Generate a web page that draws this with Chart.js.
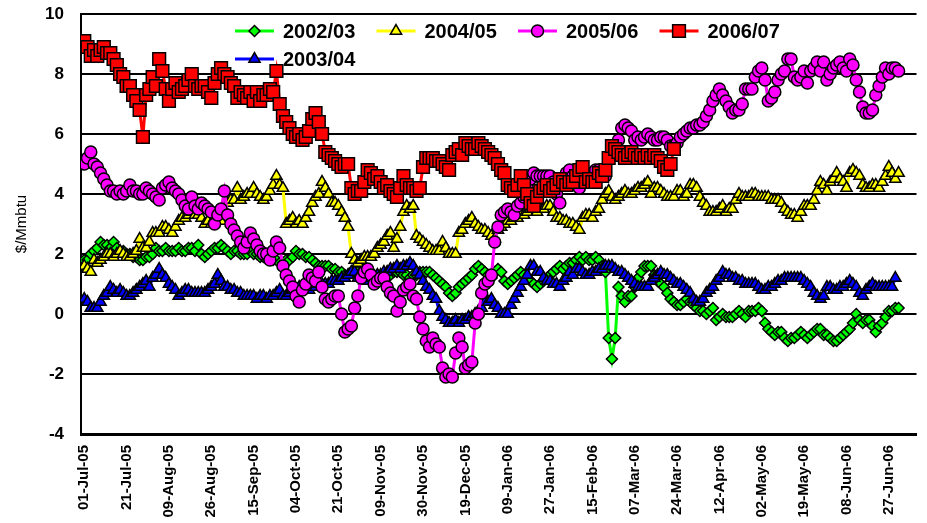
<!DOCTYPE html>
<html>
<head>
<meta charset="utf-8">
<title>Gas spread by season</title>
<script src="https://cdn.jsdelivr.net/npm/chart.js@4.4.1/dist/chart.umd.min.js"></script>
<style>
    html, body { margin: 0; padding: 0; background: #fff; }
    canvas { display: block; }
</style>
</head>
<body>
<canvas id="spreadChart" width="927" height="523"></canvas>
<script>
// Axis labels (one every 13 trading days)
const TICK_STEP = 13;
const TICK_LABELS = ['01-Jul-05', '21-Jul-05', '09-Aug-05', '26-Aug-05', '15-Sep-05', '04-Oct-05',
    '21-Oct-05', '09-Nov-05', '30-Nov-05', '19-Dec-05', '09-Jan-06', '27-Jan-06', '15-Feb-06',
    '07-Mar-06', '24-Mar-06', '12-Apr-06', '02-May-06', '19-May-06', '08-Jun-06', '27-Jun-06'];

// Daily values, $/Mmbtu, one row per 13 trading days
const SPREAD_0203 = [
    1.8, 1.8, 2.0, 2.1, 2.2, 2.4, 2.3, 2.3, 2.2, 2.4, 2.2, 2.1, 2.1,
    2.0, 2.0, 1.9, 1.9, 1.8, 1.8, 1.9, 1.9, 2.0, 2.2, 2.1, 2.1, 2.2,
    2.1, 2.1, 2.1, 2.2, 2.1, 2.1, 2.2, 2.2, 2.1, 2.3, 2.0, 1.9, 2.0,
    2.1, 2.2, 2.2, 2.3, 2.2, 2.1, 2.0, 2.1, 2.1, 2.0, 2.0, 2.0, 2.1,
    2.0, 2.0, 1.9, 1.9, 1.9, 1.9, 1.8, 1.8, 1.7, 1.7, 1.8, 1.8, 1.9,
    2.1, 2.0, 2.0, 1.9, 1.9, 1.8, 1.7, 1.6, 1.6, 1.6, 1.6, 1.5, 1.5,
    1.4, 1.4, 1.3, 1.3, 1.4, 1.4, 1.4, 1.4, 1.4, 1.3, 1.3, 1.3, 1.3,
    1.2, 1.2, 1.3, 1.3, 1.4, 1.4, 1.4, 1.3, 1.3, 1.2, 1.3, 1.3, 1.4,
    1.4, 1.4, 1.4, 1.3, 1.2, 1.1, 1.0, 0.9, 0.7, 0.6, 0.7, 0.9, 1.0,
    1.1, 1.2, 1.3, 1.5, 1.6, 1.5, 1.4, 1.3, 1.2, 1.4, 1.5, 1.4, 1.1,
    1.0, 1.1, 1.2, 1.3, 1.4, 1.3, 1.2, 1.1, 1.0, 0.9, 1.0, 1.1, 1.2,
    1.3, 1.4, 1.5, 1.6, 1.5, 1.6, 1.7, 1.7, 1.8, 1.9, 1.8, 1.9, 1.8,
    1.8, 1.9, 1.8, 1.6, 1.4, -0.8, -1.5, -0.8, 0.9, 0.6, 0.4, 0.6, 0.6,
    0.9, 1.2, 1.4, 1.6, 1.6, 1.6, 1.3, 1.1, 1.0, 0.9, 0.7, 0.5, 0.4,
    0.3, 0.3, 0.4, 0.5, 0.4, 0.3, 0.2, 0.1, 0.1, 0.0, 0.1, 0.2, -0.2,
    -0.1, 0.0, -0.1, -0.1, -0.1, 0.0, 0.1, 0.0, -0.1, 0.1, 0.1, 0.1, 0.2,
    0.1, -0.3, -0.5, -0.6, -0.7, -0.6, -0.6, -0.8, -0.9, -0.8, -0.8, -0.7, -0.6,
    -0.7, -0.8, -0.7, -0.6, -0.5, -0.5, -0.7, -0.7, -0.8, -0.9, -0.9, -0.8, -0.7,
    -0.6, -0.5, -0.3, 0.0, -0.2, -0.3, -0.2, -0.2, -0.4, -0.6, -0.4, -0.3, -0.1,
    0.1, 0.1, 0.2, 0.2
];

const SPREAD_0304 = [
    0.5, 0.4, 0.2, 0.2, 0.2, 0.4, 0.6, 0.7, 0.9, 0.8, 0.7, 0.8, 0.7,
    0.6, 0.6, 0.7, 0.8, 0.9, 1.0, 1.1, 0.9, 1.2, 1.3, 1.5, 1.3, 1.2,
    1.0, 0.9, 0.8, 0.6, 0.7, 0.8, 0.8, 0.7, 0.7, 0.7, 0.7, 0.7, 0.8,
    0.9, 1.0, 1.3, 1.1, 0.9, 0.9, 0.8, 0.8, 0.7, 0.7, 0.6, 0.6, 0.6,
    0.6, 0.5, 0.6, 0.6, 0.5, 0.6, 0.6, 0.7, 0.8, 0.6, 0.6, 0.7, 0.8,
    0.8, 0.9, 0.8, 0.8, 0.8, 0.9, 0.9, 1.0, 1.0, 1.0, 1.0, 1.1, 1.1,
    1.1, 1.2, 1.2, 1.3, 1.4, 1.4, 1.2, 1.2, 1.1, 1.2, 1.2, 1.2, 1.3,
    1.3, 1.4, 1.4, 1.5, 1.5, 1.6, 1.5, 1.6, 1.6, 1.7, 1.6, 1.4, 1.3,
    1.1, 0.9, 0.8, 0.6, 0.5, 0.1, -0.1, -0.2, -0.3, -0.3, -0.2, -0.3, -0.2,
    -0.2, -0.1, -0.1, 0.0, 0.1, 0.2, 0.4, 0.4, 0.5, 0.3, 0.2, 0.0, 0.0,
    0.0, 0.3, 0.5, 0.7, 0.9, 1.1, 1.3, 1.6, 1.6, 1.4, 1.4, 1.2, 1.1,
    1.1, 1.0, 1.0, 0.9, 1.1, 1.2, 1.4, 1.3, 1.5, 1.5, 1.4, 1.3, 1.3,
    1.4, 1.4, 1.5, 1.5, 1.6, 1.6, 1.6, 1.5, 1.4, 1.4, 1.3, 1.2, 1.1,
    1.0, 0.9, 0.9, 0.9, 0.9, 1.1, 1.2, 1.3, 1.4, 1.3, 1.3, 1.2, 1.1,
    1.0, 1.0, 0.9, 0.8, 0.7, 0.5, 0.4, 0.4, 0.5, 0.7, 0.8, 0.9, 1.1,
    1.2, 1.4, 1.3, 1.3, 1.2, 1.2, 1.1, 1.1, 1.0, 1.0, 1.0, 1.0, 0.9,
    0.8, 0.8, 0.9, 0.9, 1.0, 1.1, 1.1, 1.2, 1.2, 1.2, 1.2, 1.2, 1.2,
    1.1, 1.0, 0.9, 0.7, 0.6, 0.5, 0.6, 0.9, 0.9, 0.8, 0.8, 0.9, 0.9,
    1.0, 1.1, 1.0, 0.9, 0.7, 0.6, 0.8, 0.9, 1.0, 0.9, 0.9, 0.9, 0.9,
    0.9, 0.9, 1.2
];

const SPREAD_0405 = [
    1.6, 1.5, 1.4, 1.8, 1.7, 1.8, 1.9, 2.0, 2.0, 1.9, 2.0, 2.1, 2.0,
    1.9, 1.9, 2.0, 2.1, 2.5, 2.2, 2.2, 2.4, 2.7, 2.7, 2.7, 2.9, 2.9,
    2.8, 2.7, 2.9, 3.1, 3.2, 3.2, 3.3, 3.4, 3.3, 3.3, 3.2, 3.0, 3.1,
    3.0, 3.2, 3.3, 3.1, 3.5, 3.7, 3.8, 3.8, 4.2, 3.8, 3.9, 4.0, 4.0,
    4.2, 4.0, 3.9, 3.8, 3.9, 4.1, 4.3, 4.6, 4.3, 4.2, 3.0, 3.1, 3.2,
    3.0, 3.1, 3.0, 3.2, 3.4, 3.7, 3.9, 4.0, 4.4, 4.2, 4.0, 3.7, 3.7,
    3.6, 3.4, 3.2, 2.9, 2.0, 1.8, 1.7, 1.8, 1.9, 1.9, 1.9, 2.0, 2.2,
    2.3, 2.4, 2.6, 2.7, 2.2, 2.5, 2.9, 3.4, 3.6, 3.5, 3.6, 2.6, 2.5,
    2.4, 2.3, 2.2, 2.1, 2.1, 2.1, 2.4, 2.2, 2.0, 2.0, 2.0, 2.7, 2.8,
    3.0, 3.1, 3.2, 3.0, 2.9, 2.8, 2.8, 2.7, 2.6, 2.5, 2.8, 2.9, 3.0,
    3.1, 3.1, 3.2, 3.2, 3.3, 3.3, 3.4, 3.5, 3.5, 3.4, 3.5, 3.5, 3.6,
    3.6, 3.4, 3.2, 3.2, 3.1, 3.1, 3.0, 3.0, 2.9, 2.8, 3.2, 3.3, 3.3,
    3.2, 3.4, 3.5, 3.8, 4.0, 4.1, 3.9, 3.8, 3.9, 4.0, 4.1, 4.0, 4.0,
    4.1, 4.2, 4.2, 4.3, 4.4, 4.0, 4.2, 4.2, 4.1, 4.0, 3.9, 3.9, 3.9,
    4.1, 4.1, 3.9, 4.0, 4.3, 4.3, 4.2, 3.9, 3.7, 3.6, 3.4, 3.4, 3.4,
    3.5, 3.6, 3.4, 3.5, 3.5, 3.8, 4.0, 3.9, 3.9, 3.9, 4.0, 4.0, 3.9,
    3.9, 3.9, 3.9, 3.8, 3.8, 3.8, 3.7, 3.5, 3.4, 3.3, 3.3, 3.2, 3.4,
    3.6, 3.6, 3.6, 3.8, 4.1, 4.4, 4.3, 4.1, 4.4, 4.5, 4.7, 4.5, 4.4,
    4.2, 4.7, 4.8, 4.7, 4.6, 4.3, 4.2, 4.2, 4.3, 4.3, 4.2, 4.4, 4.6,
    4.9, 4.7, 4.5, 4.7
];

const SPREAD_0506 = [
    5.0, 5.2, 5.4, 5.0, 4.9, 4.7, 4.5, 4.3, 4.1, 4.1, 4.0, 4.1, 4.0,
    4.1, 4.3, 4.1, 4.1, 4.0, 4.0, 4.2, 4.1, 4.0, 3.9, 3.8, 4.2, 4.3,
    4.4, 4.2, 4.1, 4.0, 3.8, 3.6, 3.5, 3.9, 3.6, 3.5, 3.7, 3.6, 3.5,
    3.4, 3.0, 3.3, 3.5, 4.1, 3.3, 3.0, 2.8, 2.6, 2.4, 2.2, 2.4, 2.7,
    2.5, 2.3, 2.1, 2.0, 2.0, 1.8, 2.1, 2.4, 2.2, 1.6, 1.3, 1.1, 0.9,
    0.6, 0.4, 0.8, 1.0, 1.3, 1.2, 1.1, 1.4, 0.9, 0.5, 0.4, 0.5, 0.6,
    0.6, 0.0, -0.6, -0.5, -0.4, 0.2, 0.6, 1.2, 1.4, 1.5, 1.3, 1.0, 1.1,
    1.2, 1.2, 0.9, 0.7, 0.6, 0.1, 0.4, 0.8, 0.9, 1.0, 0.6, 0.5, -0.1,
    -0.5, -0.9, -1.1, -0.8, -1.0, -1.1, -1.8, -2.1, -2.0, -2.1, -1.3, -0.8, -1.1,
    -1.8, -1.7, -1.6, -0.3, 0.0, 0.7, 1.0, 1.1, 1.3, 2.4, 2.9, 3.3, 3.4,
    3.5, 3.4, 3.3, 3.6, 3.7, 3.9, 4.2, 4.5, 4.7, 4.6, 4.6, 4.6, 4.6,
    4.6, 4.4, 4.0, 3.7, 4.4, 4.7, 4.8, 4.6, 4.4, 4.2, 4.4, 4.6, 4.6,
    4.7, 4.8, 4.8, 4.6, 4.6, 5.2, 5.4, 5.6, 5.8, 6.2, 6.3, 6.2, 6.1,
    5.8, 5.9, 5.8, 5.9, 6.0, 5.9, 5.8, 5.8, 5.9, 5.9, 5.8, 5.6, 5.6,
    5.7, 5.9, 6.0, 6.1, 6.2, 6.2, 6.3, 6.3, 6.4, 6.6, 6.8, 7.1, 7.3,
    7.5, 7.3, 7.1, 6.9, 6.7, 6.8, 6.8, 7.0, 7.5, 7.5, 7.5, 7.9, 8.1,
    8.2, 7.8, 7.1, 7.2, 7.4, 7.8, 8.0, 8.1, 8.5, 8.5, 7.9, 7.8, 7.9,
    8.1, 7.7, 8.1, 8.2, 8.4, 8.1, 8.4, 7.8, 8.0, 8.2, 8.3, 8.4, 8.2,
    8.1, 8.5, 8.3, 7.8, 7.4, 6.9, 6.7, 6.7, 6.8, 7.3, 7.6, 7.9, 8.2,
    8.0, 8.2, 8.2, 8.1
];

const SPREAD_0607 = [
    9.1, 8.9, 8.6, 8.8, 8.6, 8.8, 8.9, 8.7, 8.7, 8.5, 8.3, 8.0, 7.9,
    7.6, 7.6, 7.3, 7.1, 6.8, 5.9, 7.3, 7.5, 7.9, 7.6, 8.5, 8.1, 7.5,
    7.1, 7.5, 7.7, 7.4, 7.5, 7.6, 7.8, 8.0, 7.6, 7.5, 7.6, 7.6, 7.4,
    7.2, 7.7, 8.0, 8.2, 8.0, 7.9, 7.7, 7.6, 7.2, 7.4, 7.3, 7.2, 7.4,
    7.1, 7.4, 7.1, 7.3, 7.3, 7.5, 7.4, 8.1, 7.0, 6.6, 6.4, 6.2, 6.0,
    5.9, 6.0, 5.8, 5.9, 6.1, 6.5, 6.7, 6.4, 6.0, 5.4, 5.3, 5.2, 5.1,
    5.0, 4.9, 5.0, 5.0, 4.2, 4.0, 4.1, 4.1, 4.4, 4.8, 4.7, 4.5, 4.6,
    4.4, 4.2, 4.3, 4.1, 4.0, 3.9, 4.2, 4.6, 4.3, 4.2, 4.2, 4.1, 4.2,
    4.9, 5.2, 5.2, 5.2, 5.1, 5.1, 5.0, 4.9, 4.8, 5.3, 5.4, 5.5, 5.3,
    5.7, 5.6, 5.5, 5.5, 5.7, 5.6, 5.5, 5.4, 5.3, 5.2, 5.0, 4.8, 4.7,
    4.3, 4.2, 4.1, 4.3, 4.6, 4.3, 4.0, 3.7, 3.6, 3.9, 4.1, 4.2, 4.3,
    4.1, 4.2, 4.3, 4.5, 4.4, 4.3, 4.4, 4.4, 4.6, 4.8, 4.9, 4.4, 4.5,
    4.4, 4.4, 4.7, 4.6, 4.8, 5.2, 5.6, 5.5, 5.4, 5.3, 5.2, 5.3, 5.4,
    5.3, 5.2, 5.3, 5.2, 5.3, 5.2, 5.3, 5.2, 5.1, 4.9, 4.8, 5.0, 5.5
];

const FONT = '"Liberation Sans", Arial, Helvetica, sans-serif';

// Legend sits inside the plot: [column, row] for each season
const LEGEND_SLOTS = {
    '2002/03': [0, 0],
    '2004/05': [1, 0],
    '2005/06': [2, 0],
    '2006/07': [3, 0],
    '2003/04': [0, 1]
};

function toPoints(values) {
    return values.map((y, i) => ({ x: i, y: y }));
}

function makeDataset(label, values, color, pointStyle, radius, order) {
    return {
        label: label,
        data: toPoints(values),
        borderColor: color,
        backgroundColor: color,
        borderWidth: 3,
        pointStyle: pointStyle,
        pointRadius: radius,
        pointBackgroundColor: color,
        pointBorderColor: '#000',
        pointBorderWidth: 1.5,
        pointHoverRadius: radius,
        tension: 0,
        order: order
    };
}

// Legend drawn over the top of the plot area
const insideLegend = {
    id: 'insideLegend',
    afterDraw: (chart) => {
        const { ctx, chartArea } = chart;
        ctx.save();
        chart.data.datasets.forEach(ds => {
            const [col, row] = LEGEND_SLOTS[ds.label];
            const x = chartArea.left + 154 + col * 141.5;
            const y = chartArea.top + 17 + row * 28;

            ctx.strokeStyle = ds.borderColor;
            ctx.lineWidth = 3;
            ctx.beginPath();
            ctx.moveTo(x, y);
            ctx.lineTo(x + 39, y);
            ctx.stroke();

            ctx.fillStyle = ds.pointBackgroundColor;
            ctx.strokeStyle = '#000';
            ctx.lineWidth = 1.5;
            Chart.helpers.drawPoint(ctx, {
                pointStyle: ds.pointStyle,
                radius: ds.pointRadius,
                rotation: 0,
                borderWidth: 1.5
            }, x + 19.5, y);

            ctx.fillStyle = '#000';
            ctx.font = `bold 20px ${FONT}`;
            ctx.textBaseline = 'middle';
            ctx.textAlign = 'left';
            ctx.fillText(ds.label, x + 48, y + 1);
        });
        ctx.restore();
    }
};

const ctx = document.getElementById('spreadChart').getContext('2d');

new Chart(ctx, {
    type: 'line',
    data: {
        datasets: [
            makeDataset('2002/03', SPREAD_0203, '#00FF00', 'rectRot', 5.5, 4),
            makeDataset('2003/04', SPREAD_0304, '#0000FF', 'triangle', 6.5, 3),
            makeDataset('2004/05', SPREAD_0405, '#FFFF00', 'triangle', 6.5, 2),
            makeDataset('2005/06', SPREAD_0506, '#FF00FF', 'circle', 6, 1),
            makeDataset('2006/07', SPREAD_0607, '#FF0000', 'rect', 9, 0)
        ]
    },
    options: {
        responsive: false,
        animation: false,
        devicePixelRatio: 1,
        events: [],
        layout: {
            padding: { top: 14, right: 0, bottom: 0, left: 0 }
        },
        plugins: {
            legend: { display: false },
            tooltip: { enabled: false }
        },
        scales: {
            x: {
                type: 'linear',
                min: -1,
                max: 255.5,
                afterBuildTicks: (scale) => {
                    scale.ticks = TICK_LABELS.map((_, k) => ({ value: k * TICK_STEP }));
                },
                ticks: {
                    autoSkip: false,
                    minRotation: 90,
                    maxRotation: 90,
                    padding: 11,
                    color: '#000',
                    font: { family: FONT, size: 15, weight: 'bold' },
                    callback: function(value) {
                        return TICK_LABELS[Math.round(value / TICK_STEP)];
                    }
                },
                grid: { display: false, drawTicks: false },
                border: { display: true, color: '#000', width: 3 },
                afterFit: (scale) => { scale.height = 89; }
            },
            y: {
                min: -4,
                max: 10,
                ticks: {
                    stepSize: 2,
                    padding: 1,
                    color: '#000',
                    font: { family: FONT, size: 17, weight: 'bold' }
                },
                // invisible tick marks give the label gap without padding the top
                grid: {
                    color: '#000',
                    lineWidth: 2,
                    drawTicks: true,
                    tickLength: 16,
                    tickColor: 'rgba(0,0,0,0)'
                },
                border: { display: true, color: '#000', width: 2 },
                title: {
                    display: true,
                    text: '$/Mmbtu',
                    color: '#000',
                    font: { family: FONT, size: 15 },
                    padding: { top: 13, bottom: 0 }
                },
                afterFit: (scale) => { scale.width = 81; }
            }
        }
    },
    plugins: [insideLegend]
});
</script>
</body>
</html>
